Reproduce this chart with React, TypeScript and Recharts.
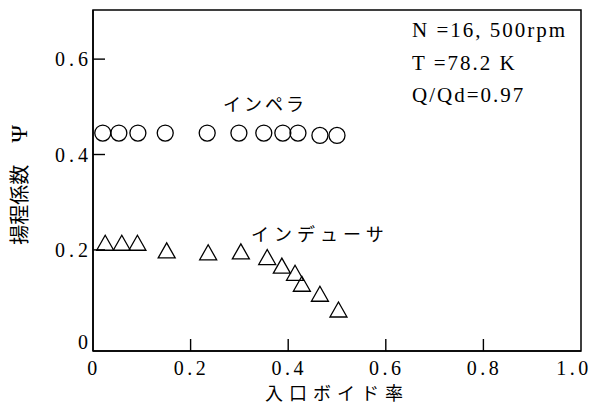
import React from "react";
import { ScatterChart, Scatter, XAxis, YAxis, ReferenceArea } from "recharts";

const impellerVoid = [0.02, 0.053, 0.092, 0.148, 0.234, 0.299, 0.35, 0.389, 0.42, 0.465, 0.5];
const impellerPsi = [0.445, 0.445, 0.445, 0.445, 0.445, 0.445, 0.445, 0.445, 0.445, 0.44, 0.44];
const inducerVoid = [0.025, 0.059, 0.091, 0.151, 0.236, 0.303, 0.357, 0.387, 0.414, 0.428, 0.465, 0.503];
const inducerPsi = [0.215, 0.215, 0.215, 0.199, 0.195, 0.197, 0.185, 0.167, 0.152, 0.129, 0.108, 0.075];

const xTicks = [0, 0.2, 0.4, 0.6, 0.8, 1.0];
const yTicks = [0, 0.2, 0.4, 0.6];

const xLabel = "入口ボイド率";
const yLabel = "揚程係数";
const yLabelSym = "Ψ";
const impellerName = "インペラ";
const inducerName = "インデューサ";
const condLines = ["N =16, 500rpm", "T =78.2 K", "Q/Qd=0.97"];

const X_MIN = 0, X_MAX = 1.0, Y_MIN = -0.012, Y_MAX = 0.703;

const impeller = impellerVoid.map((x, i) => ({ x, y: impellerPsi[i] }));
const inducer = inducerVoid.map((x, i) => ({ x, y: inducerPsi[i] }));

const serif = "'Liberation Serif', 'DejaVu Serif', serif";
const cjk = "'Noto Sans CJK JP', sans-serif";

const X_MARGIN = 10;
const Y_MARGIN = 4;
const TICK_LEN = 12;

const CircleShape = (p: any) => (
  <circle cx={p.cx} cy={p.cy} r={8} fill="none" stroke="#000" strokeWidth={1.3} />
);
const TriShape = (p: any) => {
  const s = 17, h = 15;
  const cx = p.cx, cy = p.cy;
  const d = `M${cx},${cy - h / 2} L${cx + s / 2},${cy + h / 2} L${cx - s / 2},${cy + h / 2} Z`;
  return <path d={d} fill="none" stroke="#000" strokeWidth={1.3} strokeLinejoin="miter" />;
};

const fmt = (v: number) => (v === 0 ? "0" : v.toFixed(1));

const XTick = (p: any) => {
  const v = p.payload.value;
  const axisY = p.y - X_MARGIN;
  const inner = v !== X_MIN && v !== X_MAX;
  return (
    <g>
      {inner && <path d={`M${p.x},${axisY} L${p.x},${axisY - TICK_LEN}`} stroke="#000" strokeWidth={1.4} fill="none" />}
      <text x={v === X_MAX ? p.x - 7 : p.x + 1} y={p.y} dy="0.71em" textAnchor="middle" fontFamily={serif} fontSize={20} letterSpacing={3.5} fill="#000">
        {fmt(v)}
      </text>
    </g>
  );
};

const YTick = (p: any) => {
  const v = p.payload.value;
  const axisX = p.x + Y_MARGIN;
  const inner = v !== 0;
  return (
    <g>
      {inner && <path d={`M${axisX},${p.y} L${axisX + TICK_LEN},${p.y}`} stroke="#000" strokeWidth={1.4} fill="none" />}
      <text x={p.x + 3} y={v === 0 ? p.y - 3 : p.y} dy="0.355em" textAnchor="end" fontFamily={serif} fontSize={20} letterSpacing={4} fill="#000">
        {fmt(v)}
      </text>
    </g>
  );
};

export default function App() {
  return (
    <div style={{ position: "absolute", left: 0, top: 0, width: 594, height: 410, background: "#fff" }}>
      <ScatterChart width={594} height={410} margin={{ top: 10, right: 13, bottom: 0, left: 0 }}>
        <ReferenceArea x1={X_MIN} x2={X_MAX} y1={Y_MIN} y2={Y_MAX} fill="#fff" fillOpacity={0} stroke="#000" strokeWidth={1.5} ifOverflow="visible" />
        <XAxis
          type="number"
          dataKey="x"
          domain={[X_MIN, X_MAX]}
          ticks={xTicks}
          allowDataOverflow
          tickLine={false}
          tickSize={0}
          tickMargin={X_MARGIN}
          axisLine={{ stroke: "#000", strokeWidth: 1.5 }}
          tick={XTick}
          height={59}
        />
        <YAxis
          type="number"
          dataKey="y"
          domain={[Y_MIN, Y_MAX]}
          ticks={yTicks}
          allowDataOverflow
          tickLine={false}
          tickSize={0}
          tickMargin={Y_MARGIN}
          axisLine={{ stroke: "#000", strokeWidth: 1.5 }}
          tick={YTick}
          width={93}
        />
        <Scatter data={impeller} shape={CircleShape} isAnimationActive={false} />
        <Scatter data={inducer} shape={TriShape} isAnimationActive={false} />
      </ScatterChart>
      <svg width={594} height={410} style={{ position: "absolute", left: 0, top: 0, pointerEvents: "none" }}>
        <text x={265} y={400} fontFamily={cjk} fontSize={18} letterSpacing={6} fill="#000">{xLabel}</text>
        <g transform="translate(27,185) rotate(-90)">
          <text x={0} y={0} textAnchor="middle" fill="#000">
            <tspan fontFamily={cjk} fontSize={20}>{yLabel}</tspan>
            <tspan fontFamily={serif} fontSize={24} dx={22}>{yLabelSym}</tspan>
          </text>
        </g>
        <text x={223} y={111} fontFamily={cjk} fontSize={18} letterSpacing={3} fill="#000">{impellerName}</text>
        <text x={251} y={241} fontFamily={cjk} fontSize={18} letterSpacing={5} fill="#000">{inducerName}</text>
        {condLines.map((s, i) => (
          <text key={s} x={412} y={37 + i * 32.5} fontFamily={serif} fontSize={21} letterSpacing={2} fill="#000">{s}</text>
        ))}
      </svg>
    </div>
  );
}
